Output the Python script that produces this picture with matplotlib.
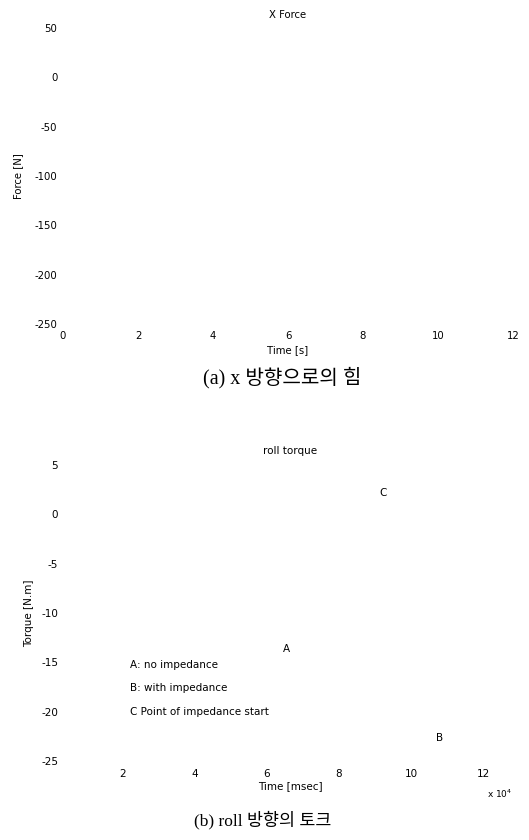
import matplotlib
matplotlib.use("Agg")
import matplotlib.pyplot as plt

W, H = 529, 840

# X force panel
force_yticks = [50, 0, -50, -100, -150, -200, -250]
force_xticks = [0, 2, 4, 6, 8, 10, 12]
force_xlim = (0, 12)
force_ylim = (-250, 50)

# Roll torque panel (time in msec)
torque_yticks = [5, 0, -5, -10, -15, -20, -25]
torque_xticks = [2e4, 4e4, 6e4, 8e4, 10e4, 12e4]
torque_xlim = (0.39e4, 12.89e4)
torque_ylim = (-25, 5)

# Point markers and legend notes on the torque panel
point_labels = ["C", "A", "B"]
point_x = [9.22e4, 6.53e4, 10.8e4]
point_y = [2.2, -13.6, -22.7]
note_texts = ["A: no impedance", "B: with impedance", "C Point of impedance start"]
note_x = [2.19e4, 2.19e4, 2.19e4]
note_y = [-15.3, -17.6, -20.0]

sans = ["DejaVu Sans"]
caption_font = ["Liberation Serif", "Noto Sans CJK KR"]

fig = plt.figure(figsize=(W / 100, H / 100), dpi=100)


def px_axes(left, top, right, bottom):
    return fig.add_axes([left / W, 1 - bottom / H, (right - left) / W, (bottom - top) / H])


def strip(ax):
    for s in ax.spines.values():
        s.set_visible(False)
    ax.tick_params(length=0)
    ax.set_facecolor("none")


# --- (a) X force ---
ax1 = px_axes(63, 28, 513, 324)
strip(ax1)
ax1.set_xlim(*force_xlim)
ax1.set_ylim(*force_ylim)
ax1.set_xticks(force_xticks)
ax1.set_yticks(force_yticks)
ax1.set_xticklabels([str(v) for v in force_xticks], fontsize=7.3, family=sans)
ax1.set_yticklabels([str(v) for v in force_yticks], fontsize=7.3, family=sans)
ax1.tick_params(axis="x", pad=5)
ax1.tick_params(axis="y", pad=4)
ax1.set_title("X Force", fontsize=7.3, family=sans, pad=7)
ax1.set_xlabel("Time [s]", fontsize=7.3, family=sans, labelpad=3)
ax1.set_ylabel("Force [N]", fontsize=7.3, family=sans, labelpad=8)

fig.text(282 / W, 1 - 378 / H, "(a) x 방향으로의 힘", ha="center", va="center",
         fontsize=14.5, family=caption_font)

# --- (b) roll torque ---
ax2 = px_axes(65, 465, 515, 761)
strip(ax2)
ax2.set_xlim(*torque_xlim)
ax2.set_ylim(*torque_ylim)
ax2.set_xticks(torque_xticks)
ax2.set_yticks(torque_yticks)
ax2.set_xticklabels([f"{v / 1e4:g}" for v in torque_xticks], fontsize=7.5, family=sans)
ax2.set_yticklabels([str(v) for v in torque_yticks], fontsize=7.5, family=sans)
ax2.tick_params(axis="x", pad=6)
ax2.tick_params(axis="y", pad=5)
ax2.set_title("roll torque", fontsize=7.5, family=sans, pad=8)
ax2.set_xlabel("Time [msec]", fontsize=7.5, family=sans, labelpad=1)
ax2.set_ylabel("Torque [N.m]", fontsize=7.5, family=sans, labelpad=5)
ax2.text(0.995, -0.11, r"x 10$^4$", transform=ax2.transAxes, fontsize=6.5,
         family=sans, ha="right", va="center")

for lab, x, y in zip(point_labels, point_x, point_y):
    ax2.text(x, y, lab, fontsize=7.5, family=sans, ha="center", va="center")
for t, x, y in zip(note_texts, note_x, note_y):
    ax2.text(x, y, t, fontsize=7.5, family=sans, ha="left", va="center")

fig.text(263 / W, 1 - 820 / H, "(b) roll 방향의 토크", ha="center", va="center",
         fontsize=12.5, family=caption_font)

fig.savefig("out.png", dpi=100)
